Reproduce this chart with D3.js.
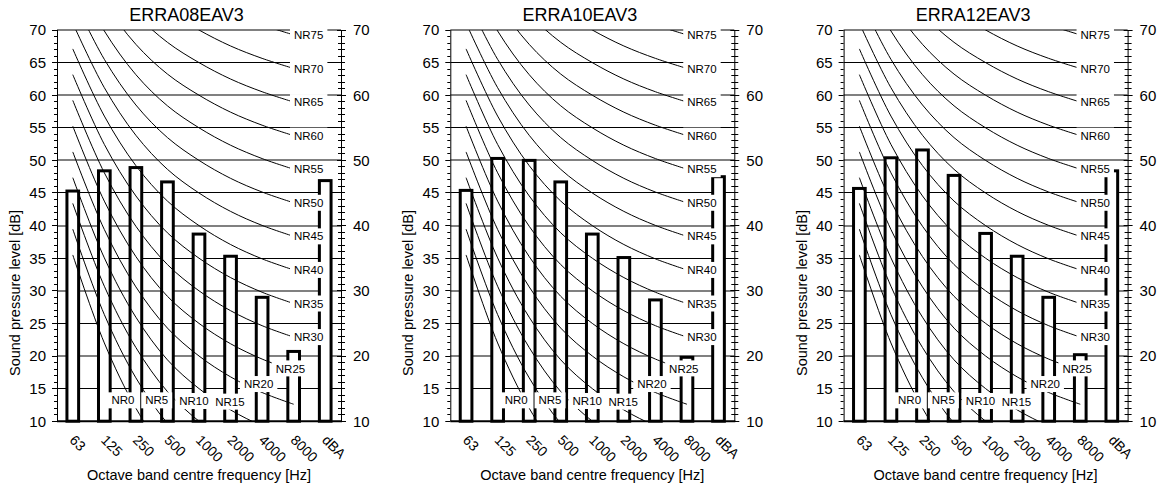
<!DOCTYPE html>
<html>
<head>
<meta charset="utf-8">
<script src="https://cdn.jsdelivr.net/npm/d3@7"></script>
<style>
  html, body { margin: 0; padding: 0; background: #fff; }
  svg { display: block; font-family: "Liberation Sans", Arial, sans-serif; }
</style>
</head>
<body>
<svg id="chart" width="1162" height="491"></svg>
<script>
// ---------- data ----------
const categories = ["63", "125", "250", "500", "1000", "2000", "4000", "8000", "dBA"];
const titles = ["ERRA08EAV3", "ERRA10EAV3", "ERRA12EAV3"];
const levelsERRA08 = [45.3, 48.4, 48.9, 46.7, 38.7, 35.3, 29.0, 20.7, 46.9];
const levelsERRA10 = [45.4, 50.3, 50.0, 46.7, 38.7, 35.1, 28.6, 19.8, 47.5];
const levelsERRA12 = [45.7, 50.4, 51.6, 47.7, 38.8, 35.3, 29.0, 20.2, 48.4];
const leftTicks = [10, 15, 20, 25, 30, 35, 40, 45, 50, 55, 60, 65, 70];
const rightTicks = [10, 20, 30, 40, 50, 60, 70];
const xTitle = "Octave band centre frequency [Hz]";
const yTitle = "Sound pressure level [dB]";

// NR curves, octave bands 63 .. 8000 Hz
const nrRatings = [0, 5, 10, 15, 20, 25, 30, 35, 40, 45, 50, 55, 60, 65, 70, 75];
const nrCurves = [
  [35.5, 22.0, 12.0, 4.8, 0, -3.5, -6.1, -8.0],
  [39.45, 26.35, 16.65, 9.67, 5, 1.58, -0.98, -2.85],
  [43.4, 30.7, 21.3, 14.54, 10, 6.65, 4.15, 2.3],
  [47.35, 35.05, 25.95, 19.41, 15, 11.73, 9.28, 7.45],
  [51.3, 39.4, 30.6, 24.28, 20, 16.8, 14.4, 12.6],
  [55.25, 43.75, 35.25, 29.15, 25, 21.88, 19.53, 17.75],
  [59.2, 48.1, 39.9, 34.02, 30, 26.95, 24.65, 22.9],
  [63.15, 52.45, 44.55, 38.89, 35, 32.03, 29.78, 28.05],
  [67.1, 56.8, 49.2, 43.76, 40, 37.1, 34.9, 33.2],
  [71.05, 61.15, 53.85, 48.63, 45, 42.18, 40.03, 38.35],
  [75.0, 65.5, 58.5, 53.5, 50, 47.25, 45.15, 43.5],
  [78.95, 69.85, 63.15, 58.37, 55, 52.33, 50.28, 48.65],
  [82.9, 74.2, 67.8, 63.24, 60, 57.4, 55.4, 53.8],
  [86.85, 78.55, 72.45, 68.11, 65, 62.48, 60.53, 58.95],
  [90.8, 82.9, 77.1, 72.98, 70, 67.55, 65.65, 64.1],
  [94.75, 87.25, 81.75, 77.85, 75, 72.63, 70.78, 69.25]
];
// label anchors for the low curves: [band index, dB]; the others sit at the 8000 Hz end
const nrLowLabelBand = [1.59, 2.66, 3.84, 4.98, 5.89, 6.9];
const nrLowLabelLevel = [13.2, 13.2, 13.1, 13.0, 15.7, 18.1];

const panelLevels = [levelsERRA08, levelsERRA10, levelsERRA12];

// ---------- layout ----------
const panelOffsets = [0, 393.3, 786.6];
const plotL = 57, plotR = 341, plotT = 30, plotB = 421.2;
const FONT = '"Liberation Sans", Arial, sans-serif';

const svg = d3.select("#chart");

const x = d3.scaleBand().domain(categories).range([plotL, plotR])
  .paddingInner(0.63).paddingOuter(0.315);
const y = d3.scaleLinear().domain([10, 70]).range([plotB, plotT]);
const xc = c => x(c) + x.bandwidth() / 2;
const xIdx = i => xc(categories[0]) + i * x.step();

const defs = svg.append("defs");
defs.append("clipPath").attr("id", "plotClip")
  .append("rect").attr("x", plotL).attr("y", plotT)
  .attr("width", plotR - plotL).attr("height", plotB - plotT);

const line = d3.line()
  .x((d, i) => xIdx(i))
  .y(d => y(d))
  .curve(d3.curveCatmullRom.alpha(0.5));

panelLevels.forEach((levels, p) => {
  const g = svg.append("g").attr("transform", `translate(${panelOffsets[p]},0)`);

  // title
  g.append("text").attr("x", 186.5).attr("y", 20.5)
    .attr("text-anchor", "middle").attr("font-size", 18).attr("fill", "#000")
    .text(titles[p]);

  // gridlines
  leftTicks.filter(v => v > 10).forEach(v => {
    const major = v % 10 === 0;
    const yy = major ? Math.round(y(v)) : Math.round(y(v) - 0.5) + 0.5;
    g.append("line").attr("x1", plotL).attr("x2", plotR)
      .attr("y1", yy).attr("y2", yy)
      .attr("stroke", major ? "#808080" : "#000")
      .attr("stroke-width", major ? 2 : 1);
  });

  // bars
  g.append("g").selectAll("rect").data(levels).join("rect")
    .attr("x", (d, i) => x(categories[i]))
    .attr("width", x.bandwidth())
    .attr("y", d => y(d))
    .attr("height", d => y(10) - y(d))
    .attr("fill", "#fff").attr("stroke", "#000").attr("stroke-width", 3);

  // NR curves
  const cg = g.append("g").attr("clip-path", "url(#plotClip)");
  nrCurves.forEach(c => {
    cg.append("path").attr("d", line(c)).attr("fill", "none")
      .attr("stroke", "#000").attr("stroke-width", 1);
  });

  // NR labels
  const lg = g.append("g");
  nrRatings.forEach((nr, k) => {
    let lx, ly;
    if (k < nrLowLabelBand.length) {
      lx = xIdx(nrLowLabelBand[k]);
      ly = y(nrLowLabelLevel[k]);
    } else {
      lx = xc("8000") + 15;
      ly = y(nrCurves[k][7]);
    }
    const rect = lg.append("rect").attr("fill", "#fff");
    const t = lg.append("text").attr("x", lx).attr("y", ly)
      .attr("dy", "0.36em").attr("text-anchor", "middle")
      .attr("font-size", 11.5).attr("fill", "#000").text("NR" + nr);
    const w = t.node().getComputedTextLength();
    rect.attr("x", lx - w / 2 - 4).attr("width", w + 8)
      .attr("y", ly - 8).attr("height", 16);
  });

  // left axis
  const ax = g.append("g");
  ax.append("line").attr("x1", plotL + 0.5).attr("x2", plotL + 0.5)
    .attr("y1", plotT).attr("y2", plotB).attr("stroke", "#000");
  d3.range(10, 71).forEach(v => {
    const yy = Math.round(y(v) - 0.5) + 0.5;
    const major = v % 5 === 0;
    ax.append("line").attr("x1", plotL - (major ? 5 : 3)).attr("x2", plotL)
      .attr("y1", yy).attr("y2", yy).attr("stroke", "#000");
  });
  ax.selectAll("text.lt").data(leftTicks).join("text").attr("class", "lt")
    .attr("x", plotL - 11).attr("y", d => y(d)).attr("dy", "0.36em")
    .attr("text-anchor", "end").attr("font-size", 15).text(d => d);

  // right axis
  ax.append("line").attr("x1", plotR + 0.5).attr("x2", plotR + 0.5)
    .attr("y1", plotT).attr("y2", plotB).attr("stroke", "#000");
  d3.range(10, 71).forEach(v => {
    const yy = Math.round(y(v) - 0.5) + 0.5;
    const major = v % 10 === 0;
    ax.append("line").attr("x1", plotR - (major ? 4 : 3)).attr("x2", plotR + (major ? 5 : 4))
      .attr("y1", yy).attr("y2", yy).attr("stroke", "#000");
  });
  ax.selectAll("text.rt").data(rightTicks).join("text").attr("class", "rt")
    .attr("x", plotR + 12).attr("y", d => y(d)).attr("dy", "0.36em")
    .attr("text-anchor", "start").attr("font-size", 15).text(d => d);

  // bottom axis
  ax.append("line").attr("x1", plotL).attr("x2", plotR + 1)
    .attr("y1", plotB).attr("y2", plotB).attr("stroke", "#000").attr("stroke-width", 2);

  // x tick labels (rotated)
  ax.selectAll("text.xt").data(categories).join("text").attr("class", "xt")
    .attr("transform", d => `translate(${xc(d) - 4},441) rotate(45)`)
    .attr("text-anchor", "start").attr("font-size", 14).text(d => d);

  // axis titles
  g.append("text").attr("x", (plotL + plotR) / 2).attr("y", 480)
    .attr("text-anchor", "middle").attr("font-size", 14.5).text(xTitle);
  g.append("text").attr("transform", "translate(20,293) rotate(-90)")
    .attr("text-anchor", "middle").attr("font-size", 14.5).text(yTitle);
});
</script>
</body>
</html>
